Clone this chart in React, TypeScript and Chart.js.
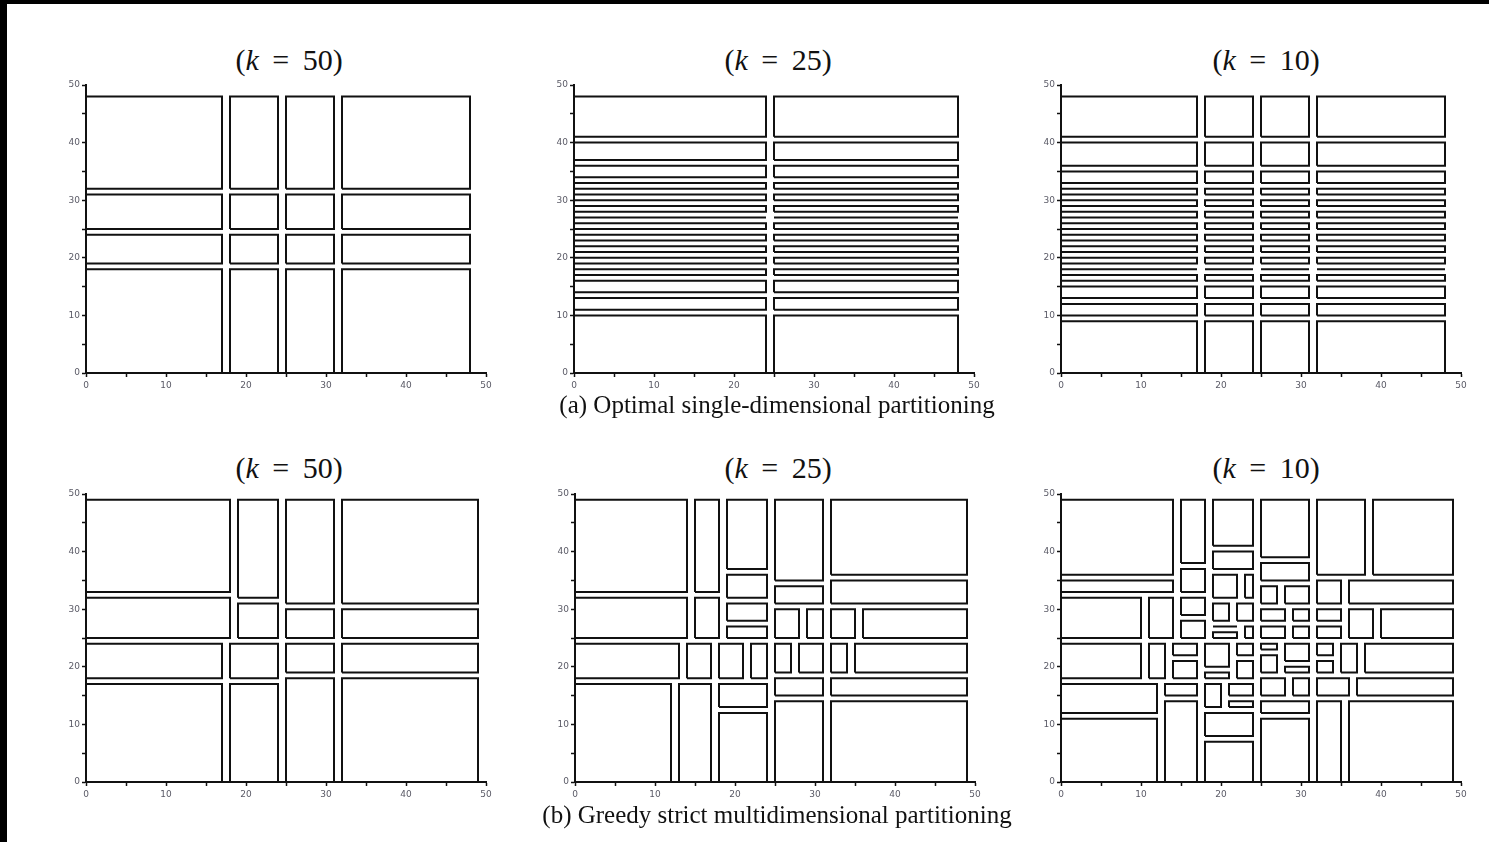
import React, { useEffect, useRef } from 'react';
import { Chart, registerables } from 'chart.js';

Chart.register(...registerables);

type Range = [number, number];
type Rect = [number, number, number, number]; // x1, x2, y1, y2

// ---- tick labels ----
const tickLabels = ['0', '10', '20', '30', '40', '50'];

// ---- (a) optimal single-dimensional partitioning ----
const optColsK50: Range[] = [[0, 17], [18, 24], [25, 31], [32, 48]];
const optRowsK50: Range[] = [[0, 18], [19, 24], [25, 31], [32, 48]];

const optColsK25: Range[] = [[0, 24], [25, 48]];
const optRowsK25: Range[] = [
  [0, 10], [11, 13], [14, 16], [17, 18], [19, 20], [21, 22], [23, 24], [25, 26],
  [27, 27], [28, 29], [30, 31], [32, 33], [34, 36], [37, 40], [41, 48],
];

const optColsK10: Range[] = [[0, 17], [18, 24], [25, 31], [32, 48]];
const optRowsK10: Range[] = [
  [0, 9], [10, 12], [13, 15], [16, 17], [18, 18], [19, 20], [21, 22], [23, 24],
  [25, 26], [27, 28], [29, 30], [31, 32], [33, 35], [36, 40], [41, 48],
];

// ---- (b) greedy strict multidimensional partitioning ----
const greedyK50: Rect[] = [
  [0, 18, 33, 49], [0, 18, 25, 32], [0, 17, 18, 24], [0, 17, 0, 17],
  [19, 24, 32, 49], [19, 24, 25, 31], [18, 24, 18, 24], [18, 24, 0, 17],
  [25, 31, 31, 49], [25, 31, 25, 30], [25, 31, 19, 24], [25, 31, 0, 18],
  [32, 49, 31, 49], [32, 49, 25, 30], [32, 49, 19, 24], [32, 49, 0, 18],
];

const greedyK25: Rect[] = [
  [0, 14, 33, 49], [15, 18, 33, 49], [19, 24, 37, 49], [25, 31, 35, 49], [32, 49, 36, 49],
  [19, 24, 32, 36], [25, 31, 31, 34], [32, 49, 31, 35],
  [0, 14, 25, 32], [15, 18, 25, 32], [19, 24, 28, 31], [19, 24, 25, 27],
  [25, 28, 25, 30], [29, 31, 25, 30], [32, 35, 25, 30], [36, 49, 25, 30],
  [0, 13, 18, 24], [14, 17, 18, 24], [18, 21, 18, 24], [22, 24, 18, 24],
  [25, 27, 19, 24], [28, 31, 19, 24], [32, 34, 19, 24], [35, 49, 19, 24],
  [0, 12, 0, 17], [13, 17, 0, 17], [18, 24, 13, 17], [18, 24, 0, 12],
  [25, 31, 15, 18], [32, 49, 15, 18], [25, 31, 0, 14], [32, 49, 0, 14],
];

const greedyK10: Rect[] = [
  [0, 14, 36, 49], [0, 14, 33, 35], [0, 10, 25, 32], [11, 14, 25, 32],
  [0, 10, 18, 24], [11, 13, 18, 24], [0, 12, 12, 17], [0, 12, 0, 11],
  [13, 17, 15, 17], [13, 17, 0, 14], [14, 17, 22, 24], [14, 17, 18, 21],
  [15, 18, 38, 49], [15, 18, 33, 37], [15, 18, 29, 32], [15, 18, 25, 28],
  [19, 24, 41, 49], [19, 24, 37, 40], [19, 22, 32, 36], [23, 24, 32, 36],
  [19, 21, 28, 31], [22, 24, 28, 31], [19, 22, 27, 27], [19, 22, 25, 26], [23, 24, 25, 27],
  [18, 21, 20, 24], [18, 21, 18, 19], [22, 24, 22, 24], [22, 24, 18, 21],
  [18, 20, 13, 17], [21, 24, 15, 17], [21, 24, 13, 14], [18, 24, 8, 12], [18, 24, 0, 7],
  [25, 31, 39, 49], [25, 31, 35, 38], [25, 27, 31, 34], [28, 31, 31, 34],
  [25, 28, 28, 30], [29, 31, 28, 30], [25, 28, 25, 27], [29, 31, 25, 27],
  [25, 27, 23, 24], [25, 27, 19, 22], [28, 31, 21, 24], [28, 31, 19, 20],
  [25, 28, 15, 18], [29, 31, 15, 18], [25, 31, 12, 14], [25, 31, 0, 11],
  [32, 38, 36, 49], [39, 49, 36, 49], [32, 35, 31, 35], [36, 49, 31, 35],
  [32, 35, 28, 30], [32, 35, 25, 27], [36, 39, 25, 30], [40, 49, 25, 30],
  [32, 34, 22, 24], [32, 34, 19, 21], [35, 37, 19, 24], [38, 49, 19, 24],
  [32, 36, 15, 18], [37, 49, 15, 18], [32, 35, 0, 14], [36, 49, 0, 14],
];

function gridRects(cols: Range[], rows: Range[]): Rect[] {
  const out: Rect[] = [];
  for (const c of cols) for (const r of rows) out.push([c[0], c[1], r[0], r[1]]);
  return out;
}

const AXIS_W = 40;
const PAD_TOP = 10;
const PAD_RIGHT = 14;
const AXIS_H = 24;
const PLOT_W = 400;
const PLOT_H = 288;
const CW = AXIS_W + PLOT_W + PAD_RIGHT;
const CH = PAD_TOP + PLOT_H + AXIS_H;

function makeAxis(isX: boolean) {
  return {
    type: 'linear' as const,
    min: 0,
    max: 50,
    ticks: {
      stepSize: 5,
      autoSkip: false,
      maxRotation: 0,
      padding: isX ? 3 : 2,
      color: '#5a5a66',
      font: { family: 'DejaVu Sans', size: 9 },
      callback: (v: number) => {
        const i = tickLabels.indexOf(String(v));
        return i >= 0 ? tickLabels[i] : '';
      },
    },
    grid: {
      display: true,
      drawOnChartArea: false,
      drawTicks: true,
      tickLength: 4,
      tickColor: '#111',
      tickWidth: 1.5,
    },
    border: { display: true, color: '#111', width: 2 },
    afterFit: (s: any) => {
      if (isX) s.height = AXIS_H;
      else s.width = AXIS_W;
    },
  };
}

function Panel({ rects, x0, y50 }: { rects: Rect[]; x0: number; y50: number }) {
  const ref = useRef<HTMLCanvasElement>(null);
  useEffect(() => {
    const datasets = rects.map(([x1, x2, y1, y2]) => ({
      data: [
        { x: x1, y: y1 }, { x: x2, y: y1 }, { x: x2, y: y2 }, { x: x1, y: y2 }, { x: x1, y: y1 },
      ],
      showLine: true,
      borderColor: '#111',
      borderWidth: 2,
      pointRadius: 0,
      pointHoverRadius: 0,
      fill: false,
      tension: 0,
      clip: 3,
    }));
    const chart = new Chart(ref.current!, {
      type: 'scatter',
      data: { datasets },
      options: {
        responsive: false,
        animation: false,
        devicePixelRatio: 1,
        events: [],
        layout: { padding: { left: 0, top: PAD_TOP, right: PAD_RIGHT, bottom: 0 } },
        plugins: { legend: { display: false }, tooltip: { enabled: false }, title: { display: false } },
        scales: { x: makeAxis(true) as any, y: makeAxis(false) as any },
      },
    });
    return () => chart.destroy();
  }, [rects]);
  return (
    <canvas
      ref={ref}
      width={CW}
      height={CH}
      style={{ position: 'absolute', left: x0 - AXIS_W, top: y50 - PAD_TOP, width: CW, height: CH }}
    />
  );
}

function Title({ k, cx, cy }: { k: string; cx: number; cy: number }) {
  return (
    <div
      style={{
        position: 'absolute', left: cx - 150, top: cy - 17, width: 300, height: 34,
        lineHeight: '34px', textAlign: 'center', fontFamily: '"Liberation Serif", "DejaVu Serif", serif',
        fontSize: 30, color: '#111', whiteSpace: 'nowrap',
      }}
    >
      (<i>k</i><span style={{ margin: '0 0.45em' }}>=</span>{k})
    </div>
  );
}

function Caption({ text, cx, cy }: { text: string; cx: number; cy: number }) {
  return (
    <div
      style={{
        position: 'absolute', left: cx - 300, top: cy - 15, width: 600, height: 30,
        lineHeight: '30px', textAlign: 'center', fontFamily: '"Liberation Serif", serif',
        fontSize: 25, color: '#111', whiteSpace: 'nowrap',
      }}
    >
      {text}
    </div>
  );
}

const rectsA1 = gridRects(optColsK50, optRowsK50);
const rectsA2 = gridRects(optColsK25, optRowsK25);
const rectsA3 = gridRects(optColsK10, optRowsK10);

export default function App() {
  return (
    <div style={{ position: 'fixed', left: 0, top: 0, width: 1489, height: 842, background: '#fff', overflow: 'hidden' }}>
      <div style={{ position: 'absolute', left: 0, top: 0, width: 1489, height: 4, background: '#000' }} />
      <div style={{ position: 'absolute', left: 0, top: 0, width: 7, height: 842, background: '#000' }} />

      <Title k="50" cx={289} cy={60} />
      <Title k="25" cx={778} cy={60} />
      <Title k="10" cx={1266} cy={60} />
      <Panel rects={rectsA1} x0={86} y50={85} />
      <Panel rects={rectsA2} x0={574} y50={85} />
      <Panel rects={rectsA3} x0={1061} y50={85} />
      <Caption text="(a) Optimal single-dimensional partitioning" cx={777} cy={405} />

      <Title k="50" cx={289} cy={468} />
      <Title k="25" cx={778} cy={468} />
      <Title k="10" cx={1266} cy={468} />
      <Panel rects={greedyK50} x0={86} y50={494} />
      <Panel rects={greedyK25} x0={575} y50={494} />
      <Panel rects={greedyK10} x0={1061} y50={494} />
      <Caption text="(b) Greedy strict multidimensional partitioning" cx={777} cy={815} />
    </div>
  );
}
